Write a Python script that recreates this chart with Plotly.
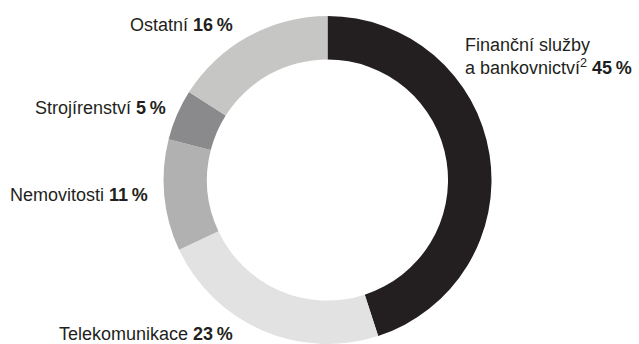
import plotly.graph_objects as go

labels = ["Finanční služby a bankovnictví", "Telekomunikace", "Nemovitosti", "Strojírenství", "Ostatní"]
values = [45, 23, 11, 5, 16]
colors = ["#231f20", "#e3e2e2", "#b1b1b2", "#8a8a8c", "#c6c6c5"]

W, H = 639, 344
cx, cy, r = 327.5, 180, 164

fig = go.Figure(go.Pie(
    labels=labels, values=values, sort=False, direction="clockwise", rotation=0,
    hole=0.735, textinfo="none", hoverinfo="label+percent",
    marker=dict(colors=colors, line=dict(width=0)),
    domain=dict(x=[(cx - r) / W, (cx + r) / W], y=[(H - cy - r) / H, (H - cy + r) / H]),
    showlegend=False,
))

txt_color = "#231f20"
font = dict(family="Liberation Sans, Arial, sans-serif", size=18, color=txt_color)

def pct(v):
    return f"<b>{v}\u2009%</b>"

ann = [
    (463, 57, "left", f"Finanční služby<br>a bankovnictví<sup>2</sup> {pct(values[0])}"),
    (235, 25, "right", f"Ostatní {pct(values[4])}"),
    (168, 108, "right", f"Strojírenství {pct(values[3])}"),
    (150, 195, "right", f"Nemovitosti {pct(values[2])}"),
    (235, 334, "right", f"Telekomunikace {pct(values[1])}"),
]
for x, y, anchor, t in ann:
    fig.add_annotation(x=x / W, y=1 - y / H, xref="paper", yref="paper", text=t,
                       showarrow=False, xanchor=anchor, yanchor="middle", align="left",
                       font=font)

fig.update_layout(width=W, height=H, margin=dict(l=0, r=0, t=0, b=0),
                  paper_bgcolor="white", plot_bgcolor="white")
fig.write_html("out.html")
